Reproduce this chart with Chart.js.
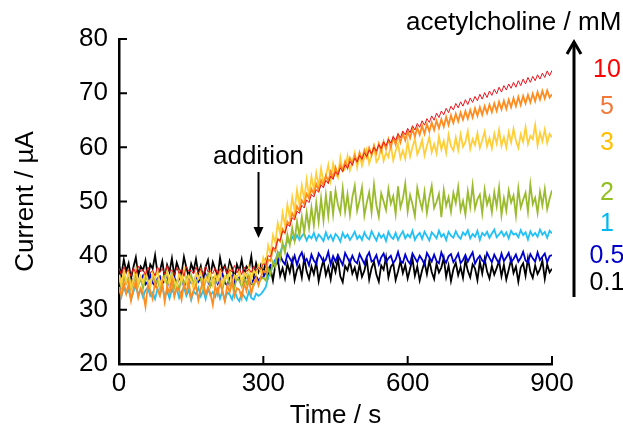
<!DOCTYPE html>
<html>
<head>
<meta charset="utf-8">
<script src="https://cdn.jsdelivr.net/npm/chart.js@4.4.0/dist/chart.umd.min.js"></script>
<style>
    html, body { margin: 0; padding: 0; background: #ffffff; }
    #wrap { width: 623px; height: 427px; }
</style>
</head>
<body>
<div id="wrap"><canvas id="currentChart" width="623" height="427"></canvas></div>
<script>
// Time axis (s) - one reading every 5 s
const TIME = [
    0, 5, 10, 15, 20, 25, 30, 35, 40, 45, 50, 55, 60, 65, 70, 75, 80, 85, 90, 95,
    100, 105, 110, 115, 120, 125, 130, 135, 140, 145, 150, 155, 160, 165, 170, 175, 180, 185, 190, 195,
    200, 205, 210, 215, 220, 225, 230, 235, 240, 245, 250, 255, 260, 265, 270, 275, 280, 285, 290, 295,
    300, 305, 310, 315, 320, 325, 330, 335, 340, 345, 350, 355, 360, 365, 370, 375, 380, 385, 390, 395,
    400, 405, 410, 415, 420, 425, 430, 435, 440, 445, 450, 455, 460, 465, 470, 475, 480, 485, 490, 495,
    500, 505, 510, 515, 520, 525, 530, 535, 540, 545, 550, 555, 560, 565, 570, 575, 580, 585, 590, 595,
    600, 605, 610, 615, 620, 625, 630, 635, 640, 645, 650, 655, 660, 665, 670, 675, 680, 685, 690, 695,
    700, 705, 710, 715, 720, 725, 730, 735, 740, 745, 750, 755, 760, 765, 770, 775, 780, 785, 790, 795,
    800, 805, 810, 815, 820, 825, 830, 835, 840, 845, 850, 855, 860, 865, 870, 875, 880, 885, 890, 895,
    900];

const X_TICKS = [0, 300, 600, 900];
const Y_TICKS = [20, 30, 40, 50, 60, 70, 80];

// Current (uA) for each acetylcholine concentration
const I_10MM = [
    37.7, 36.5, 38.0, 36.9, 37.4, 36.2, 37.8, 36.7, 38.1, 37.0, 37.5, 36.4, 37.9, 36.8, 37.3, 36.3, 38.0, 36.9, 37.6, 36.6,
    38.2, 37.0, 37.4, 36.5, 37.8, 36.7, 37.6, 36.2, 38.0, 37.1, 37.3, 36.6, 37.9, 36.8, 37.5, 36.4, 38.1, 37.0, 37.2, 36.7,
    37.8, 36.5, 37.6, 36.9, 38.0, 36.6, 37.4, 37.0, 38.2, 36.8, 37.7, 36.5, 37.9, 37.1, 37.5, 36.9, 38.1, 37.3, 37.8, 37.5,
    38.5, 38.3, 40.0, 39.8, 41.5, 41.3, 43.0, 42.8, 44.5, 44.2, 45.8, 45.4, 47.0, 46.6, 48.2, 47.8, 49.3, 48.8, 50.3, 49.8,
    51.3, 50.8, 52.2, 51.7, 53.1, 52.5, 53.9, 53.3, 54.7, 54.1, 55.5, 54.9, 56.2, 55.5, 56.8, 56.1, 57.4, 56.7, 58.0, 57.3,
    58.5, 57.8, 59.0, 58.3, 59.5, 58.8, 60.0, 59.3, 60.5, 59.8, 61.0, 60.3, 61.5, 60.8, 62.0, 61.3, 62.5, 61.8, 63.0, 62.3,
    63.5, 62.7, 64.0, 63.2, 64.4, 63.7, 64.9, 64.1, 65.3, 64.6, 65.8, 65.0, 66.3, 65.5, 66.7, 66.0, 67.2, 66.4, 67.6, 66.9,
    68.1, 67.3, 68.4, 67.6, 68.8, 67.9, 69.1, 68.3, 69.4, 68.6, 69.8, 68.9, 70.1, 69.2, 70.4, 69.6, 70.7, 69.9, 71.1, 70.2,
    71.4, 70.6, 71.7, 70.9, 72.0, 71.1, 72.3, 71.4, 72.6, 71.7, 72.9, 72.0, 73.1, 72.3, 73.4, 72.6, 73.7, 72.9, 74.1, 73.2,
    74.2];

const I_5MM = [
    34.2, 32.5, 35.1, 33.0, 34.8, 31.7, 33.9, 35.4, 32.3, 34.0, 33.2, 30.6, 34.6, 33.5, 32.0, 35.2, 33.7, 32.6, 34.9, 31.5,
    34.3, 33.1, 35.5, 32.4, 34.1, 33.8, 31.9, 34.7, 33.3, 35.0, 32.2, 33.6, 34.5, 31.8, 33.9, 35.3, 32.7, 34.2, 33.0, 30.9,
    34.4, 32.8, 35.1, 33.4, 31.6, 34.6, 33.2, 35.4, 32.5, 34.0, 33.7, 32.1, 34.9, 33.5, 35.6, 33.0, 34.8, 35.9, 34.5, 36.1,
    37.2, 36.9, 39.3, 39.0, 41.4, 40.8, 43.1, 42.6, 44.9, 44.2, 46.3, 45.7, 47.8, 47.0, 49.1, 48.3, 50.2, 49.5, 51.4, 50.6,
    52.3, 51.4, 53.2, 52.1, 53.9, 53.0, 54.8, 53.7, 55.5, 54.4, 56.3, 55.0, 56.7, 55.8, 57.4, 56.2, 58.0, 56.9, 58.5, 57.3,
    59.0, 57.8, 59.5, 58.2, 59.9, 58.6, 60.3, 58.9, 60.7, 59.3, 61.1, 59.7, 61.5, 60.0, 61.8, 60.5, 62.3, 60.9, 62.6, 61.3,
    63.0, 61.7, 63.4, 62.0, 63.6, 62.3, 64.0, 62.5, 64.3, 62.9, 64.6, 63.2, 64.9, 63.5, 65.2, 63.8, 65.6, 64.1, 65.9, 64.5,
    66.2, 64.8, 66.4, 65.1, 66.7, 65.3, 66.9, 65.5, 67.2, 65.8, 67.4, 66.0, 67.6, 66.3, 67.9, 66.5, 68.1, 66.7, 68.4, 67.0,
    68.6, 67.1, 68.8, 67.4, 69.1, 67.6, 69.3, 67.8, 69.5, 68.1, 69.7, 68.3, 69.9, 68.5, 70.2, 68.8, 70.4, 69.0, 70.5, 69.2,
    69.8];

const I_3MM = [
    36.5, 34.6, 37.3, 35.2, 36.9, 34.1, 35.7, 37.6, 34.8, 36.2, 35.0, 37.1, 35.5, 34.3, 36.8, 35.9, 37.4, 34.5, 36.0, 35.3,
    37.2, 34.7, 36.4, 35.6, 34.0, 36.9, 35.1, 37.5, 34.9, 36.3, 35.4, 33.9, 36.7, 35.8, 37.3, 34.4, 36.1, 35.2, 37.0, 34.6,
    36.6, 35.3, 37.4, 34.8, 36.2, 35.7, 37.7, 34.5, 36.4, 35.9, 37.1, 35.0, 36.8, 36.1, 37.9, 35.6, 37.3, 36.5, 38.2, 37.0,
    39.6, 38.4, 41.9, 40.3, 43.8, 42.4, 46.0, 44.1, 47.9, 45.6, 49.4, 47.0, 50.8, 48.3, 52.1, 49.5, 53.0, 50.4, 54.1, 51.0,
    54.6, 52.2, 55.3, 52.9, 56.1, 53.4, 54.7, 56.8, 53.9, 57.0, 55.2, 54.4, 58.1, 55.6, 56.0, 58.4, 55.8, 57.2, 59.0, 56.3,
    58.9, 56.6, 58.1, 59.6, 57.0, 58.5, 60.2, 57.3, 58.0, 60.1, 57.5, 59.0, 58.2, 60.4, 57.6, 59.3, 60.6, 58.0, 59.4, 57.9,
    61.1, 58.3, 60.0, 61.6, 58.7, 59.8, 61.4, 58.5, 60.3, 61.9, 59.1, 60.6, 58.9, 62.0, 59.6, 61.2, 59.0, 62.3, 60.2, 59.4,
    61.8, 59.5, 62.4, 60.1, 61.0, 63.0, 59.7, 61.5, 60.4, 62.6, 59.9, 61.3, 62.9, 60.2, 61.7, 59.8, 62.5, 60.7, 63.2, 60.3,
    61.9, 60.0, 62.8, 60.9, 63.4, 61.2, 59.9, 62.4, 61.0, 63.7, 60.6, 62.1, 61.5, 64.1, 60.4, 62.7, 61.1, 63.3, 60.8, 62.5,
    61.8];

const I_2MM = [
    35.8, 34.2, 36.4, 34.9, 35.6, 33.8, 35.1, 36.6, 34.5, 35.9, 34.0, 36.2, 35.3, 34.4, 36.5, 34.8, 35.5, 33.9, 35.7, 36.3,
    34.6, 35.4, 36.8, 34.1, 35.2, 33.7, 36.0, 34.7, 35.9, 34.3, 36.4, 35.0, 34.5, 36.1, 35.6, 33.9, 35.3, 36.7, 34.4, 35.8,
    34.9, 36.2, 35.1, 33.8, 35.7, 36.5, 34.6, 35.3, 34.0, 36.1, 35.4, 34.3, 35.9, 34.8, 36.3, 35.0, 34.5, 35.6, 34.9, 35.7,
    35.9, 35.4, 37.6, 36.5, 38.9, 37.9, 40.6, 39.3, 42.4, 40.6, 43.9, 42.0, 45.1, 42.8, 46.3, 43.6, 47.2, 44.3, 48.0, 45.1,
    48.9, 45.6, 49.8, 46.2, 50.6, 46.5, 51.2, 47.3, 51.9, 47.6, 52.0, 49.4, 47.9, 52.4, 48.1, 51.3, 47.5, 50.8, 52.9, 48.3,
    50.2, 52.6, 47.4, 49.8, 51.7, 48.0, 53.1, 49.3, 47.2, 51.5, 50.0, 48.4, 52.3, 49.6, 51.0, 47.7, 52.8, 48.9, 50.5, 53.3,
    48.2, 51.2, 49.5, 47.3, 52.5, 50.3, 48.6, 51.8, 47.9, 50.7, 52.9, 48.8, 49.9, 51.4, 47.1, 52.1, 49.2, 50.8, 48.1, 51.6,
    49.7, 52.7, 48.4, 50.1, 47.6, 51.9, 49.0, 53.0, 48.7, 50.4, 51.3, 47.8, 52.2, 49.4, 50.9, 48.0, 51.7, 49.1, 52.6, 47.5,
    50.6, 48.3, 52.0, 49.8, 51.1, 47.4, 52.4, 48.9, 50.3, 51.6, 48.1, 53.2, 49.5, 50.7, 47.9, 51.8, 49.3, 52.3, 48.6, 50.5,
    52.1];

const I_1MM = [
    33.9, 32.5, 34.2, 33.0, 33.7, 31.9, 33.4, 34.4, 32.7, 33.8, 32.3, 33.6, 34.1, 32.6, 33.2, 32.0, 33.9, 32.8, 34.3, 32.4,
    33.5, 32.1, 33.8, 32.9, 34.0, 32.2, 33.3, 34.2, 32.6, 33.7, 31.8, 33.4, 32.9, 34.1, 32.5, 33.6, 32.0, 33.9, 32.7, 33.3,
    32.4, 33.8, 32.1, 33.5, 31.7, 33.2, 32.8, 31.9, 33.6, 32.3, 31.6, 33.1, 32.5, 31.8, 33.4, 32.2, 31.9, 33.0, 32.6, 32.9,
    33.5, 34.2, 36.1, 36.8, 38.5, 39.0, 40.6, 40.5, 41.9, 41.6, 42.8, 42.3, 43.5, 42.8, 43.8, 42.9, 43.6, 44.1, 42.8, 43.7,
    43.2, 44.2, 42.9, 43.9, 43.4, 42.7, 44.3, 43.1, 43.8, 42.8, 44.0, 43.5, 42.6, 44.2, 43.3, 43.9, 42.9, 43.6, 44.4, 43.1,
    43.7, 42.9, 44.3, 43.4, 43.0, 44.5, 43.6, 42.8, 44.1, 43.3, 43.9, 42.7, 44.4, 43.5, 43.1, 44.2, 42.9, 43.8, 44.5, 43.2,
    43.9, 43.4, 44.6, 42.9, 43.7, 44.2, 43.1, 44.4, 43.6, 42.8, 44.3, 43.8, 43.2, 44.6, 43.5, 44.0, 42.9, 44.4, 43.7, 43.3,
    44.5, 43.6, 43.1, 44.3, 43.8, 44.7, 43.2, 44.0, 43.5, 44.6, 42.9, 44.2, 43.7, 44.4, 43.3, 44.1, 44.8, 43.4, 43.9, 44.5,
    43.6, 44.3, 43.2, 44.6, 43.9, 44.1, 43.4, 44.7, 43.8, 44.3, 43.0, 44.5, 43.7, 44.2, 43.5, 44.8, 43.9, 44.4, 43.3, 44.6,
    44.1];

const I_05MM = [
    35.9, 34.6, 36.4, 35.0, 36.1, 34.3, 35.7, 36.6, 34.9, 35.5, 36.3, 34.7, 35.2, 36.5, 35.0, 34.4, 35.8, 36.2, 34.8, 35.6,
    36.4, 34.5, 35.3, 36.0, 34.9, 35.7, 36.6, 34.2, 35.4, 36.1, 35.0, 34.6, 36.3, 35.2, 35.9, 34.7, 36.5, 35.1, 34.4, 35.8,
    36.2, 34.8, 35.5, 36.7, 35.0, 34.5, 35.9, 36.3, 34.9, 35.6, 36.0, 34.6, 35.3, 36.4, 35.1, 34.8, 35.7, 36.2, 35.4, 36.0,
    36.0, 36.9, 37.4, 38.3, 38.1, 39.2, 38.6, 40.1, 39.0, 38.4, 40.3, 39.5, 38.7, 40.0, 38.3, 39.8, 40.6, 38.9, 39.4, 38.2,
    40.2, 39.1, 38.5, 40.4, 39.7, 38.8, 39.3, 40.7, 38.4, 39.9, 38.9, 40.1, 39.2, 38.3, 40.5, 39.6, 38.7, 40.0, 39.0, 38.6,
    40.3, 39.4, 38.5, 39.8, 40.6, 38.9, 39.2, 40.1, 38.4, 39.7, 40.4, 38.8, 39.5, 40.0, 38.6, 39.3, 40.7, 39.0, 38.7, 40.2,
    39.1, 38.5, 40.4, 39.6, 38.8, 40.0, 39.3, 38.4, 40.5, 39.7, 38.9, 40.2, 39.0, 38.6, 40.6, 39.4, 38.7, 39.9, 40.3, 38.8,
    39.5, 40.4, 38.6, 39.2, 40.1, 38.9, 39.8, 40.6, 38.5, 39.4, 40.0, 39.1, 38.7, 40.5, 39.6, 38.8, 40.2, 39.3, 38.6, 40.4,
    39.0, 39.7, 40.5, 38.8, 39.4, 40.2, 38.9, 39.6, 40.7, 39.1, 38.7, 40.3, 39.5, 38.9, 40.6, 39.2, 39.8, 40.4, 38.8, 39.9,
    40.1];

const I_01MM = [
    38.2, 36.5, 39.3, 37.1, 38.6, 35.8, 37.9, 39.7, 36.4, 38.0, 37.3, 39.1, 36.0, 38.4, 37.6, 40.1, 36.8, 37.2, 39.0, 35.9,
    38.3, 37.0, 39.5, 36.2, 38.7, 37.4, 36.6, 39.8, 37.8, 36.1, 38.5, 37.2, 39.4, 36.7, 38.1, 35.7, 37.9, 39.2, 36.3, 38.8,
    37.5, 36.0, 39.6, 37.3, 38.2, 36.5, 39.0, 37.7, 35.9, 38.4, 37.1, 39.3, 36.6, 38.0, 37.4, 39.9, 36.2, 38.6, 37.0, 38.3,
    36.8, 38.9, 36.1, 37.6, 35.4, 38.3, 39.4, 36.3, 37.7, 35.8, 38.5, 36.9, 39.1, 35.5, 37.4, 38.2, 36.0, 39.6, 37.1, 35.7,
    38.0, 36.6, 38.8, 35.3, 37.5, 39.2, 36.4, 37.9, 35.6, 38.6, 37.0, 39.5, 36.2, 35.1, 38.1, 37.3, 39.0, 36.7, 37.8, 35.9,
    38.4, 36.1, 37.2, 39.3, 35.6, 37.7, 38.9, 36.5, 35.2, 38.2, 37.4, 39.7, 36.0, 37.9, 38.6, 35.5, 37.1, 39.0, 36.8, 38.3,
    35.8, 37.6, 39.4, 36.3, 38.0, 35.4, 37.3, 38.8, 36.6, 39.1, 37.0, 35.7, 38.5, 36.9, 37.8, 39.6, 36.1, 38.2, 35.3, 37.5,
    38.7, 36.4, 37.9, 35.9, 39.2, 37.2, 36.0, 38.4, 37.6, 35.5, 38.9, 36.7, 39.4, 37.1, 35.8, 38.1, 36.5, 37.7, 39.0, 36.2,
    38.3, 35.6, 37.4, 39.3, 36.8, 38.0, 35.2, 37.8, 38.6, 36.3, 39.5, 37.0, 35.9, 38.2, 36.6, 37.5, 39.1, 35.7, 38.4, 36.9,
    37.6];

// first entry is drawn on top
const SERIES = [
    { label: '10', values: I_10MM, line: '#e5141c', text: '#ff0000', width: 1, baseline: 77 },
    { label: '5', values: I_5MM, line: '#ff8c1e', text: '#f07838', width: 1.8, baseline: 114 },
    { label: '3', values: I_3MM, line: '#ffcf3a', text: '#ffc000', width: 1.8, baseline: 150 },
    { label: '2', values: I_2MM, line: '#9bbb2e', text: '#92c020', width: 1.8, baseline: 200 },
    { label: '1', values: I_1MM, line: '#22c0f5', text: '#00b8f0', width: 1.8, baseline: 231 },
    { label: '0.5', values: I_05MM, line: '#0000cc', text: '#0000cc', width: 1.8, baseline: 263 },
    { label: '0.1', values: I_01MM, line: '#000000', text: '#000000', width: 1.8, baseline: 290 }
];

const FONT = '"Liberation Sans", Arial, sans-serif';

const annotations = {
    id: 'annotations',
    afterDraw(chart) {
        const ctx = chart.ctx;
        const xs = chart.scales.x;
        const ys = chart.scales.y;
        const area = chart.chartArea;
        ctx.save();
        ctx.strokeStyle = '#000';
        ctx.fillStyle = '#000';

        // inward tick marks
        ctx.lineWidth = 2;
        ctx.beginPath();
        X_TICKS.forEach(v => {
            const px = xs.getPixelForValue(v);
            ctx.moveTo(px, area.bottom);
            ctx.lineTo(px, area.bottom - 8);
        });
        Y_TICKS.forEach(v => {
            const py = ys.getPixelForValue(v);
            ctx.moveTo(area.left, py);
            ctx.lineTo(area.left + 8, py);
        });
        ctx.stroke();

        // axis titles
        ctx.font = '26px ' + FONT;
        ctx.textAlign = 'center';
        ctx.textBaseline = 'alphabetic';
        ctx.fillText('Time / s', (area.left + area.right) / 2, 423);
        ctx.save();
        ctx.translate(33, (area.top + area.bottom) / 2);
        ctx.rotate(-Math.PI / 2);
        ctx.fillText('Current / µA', 0, 0);
        ctx.restore();

        // "addition" marker
        const ax = xs.getPixelForValue(290);
        ctx.fillText('addition', ax, 164);
        ctx.lineWidth = 2;
        ctx.beginPath();
        ctx.moveTo(ax, 172);
        ctx.lineTo(ax, 229);
        ctx.stroke();
        ctx.beginPath();
        ctx.moveTo(ax - 5, 227);
        ctx.lineTo(ax + 5, 227);
        ctx.lineTo(ax, 238);
        ctx.closePath();
        ctx.fill();

        // concentration scale at the right
        ctx.textAlign = 'left';
        ctx.fillText('acetylcholine / mM', 406, 30);
        ctx.lineWidth = 3;
        ctx.beginPath();
        ctx.moveTo(574, 297);
        ctx.lineTo(574, 42);
        ctx.stroke();
        ctx.beginPath();
        ctx.moveTo(567, 54);
        ctx.lineTo(574, 42);
        ctx.lineTo(581, 54);
        ctx.stroke();

        ctx.font = '25px ' + FONT;
        ctx.textAlign = 'center';
        SERIES.forEach(s => {
            ctx.fillStyle = s.text;
            ctx.fillText(s.label, 607, s.baseline);
        });
        ctx.restore();
    }
};

const ctx = document.getElementById('currentChart').getContext('2d');
new Chart(ctx, {
    type: 'line',
    data: {
        datasets: SERIES.map(s => ({
            label: s.label,
            data: TIME.map((t, i) => ({ x: t, y: s.values[i] })),
            borderColor: s.line,
            borderWidth: s.width,
            pointRadius: 0,
            fill: false,
            tension: 0
        }))
    },
    options: {
        responsive: false,
        animation: false,
        layout: {
            padding: { left: 0, top: 39, right: 71, bottom: 0 }
        },
        plugins: {
            legend: { display: false },
            tooltip: { enabled: false }
        },
        scales: {
            x: {
                type: 'linear',
                min: 0,
                max: 900,
                afterFit: scale => { scale.height = 63; },
                afterBuildTicks: scale => { scale.ticks = X_TICKS.map(v => ({ value: v })); },
                grid: { display: false, drawTicks: false, tickLength: 0 },
                border: { display: true, color: '#000', width: 2.5 },
                ticks: {
                    color: '#000',
                    padding: 4,
                    maxRotation: 0,
                    font: { family: FONT, size: 26 }
                }
            },
            y: {
                min: 20,
                max: 80,
                afterFit: scale => { scale.width = 119; },
                afterBuildTicks: scale => { scale.ticks = Y_TICKS.map(v => ({ value: v })); },
                grid: { display: false, drawTicks: false, tickLength: 0 },
                border: { display: true, color: '#000', width: 2.5 },
                ticks: {
                    color: '#000',
                    padding: 11,
                    font: { family: FONT, size: 26 }
                }
            }
        }
    },
    plugins: [annotations]
});
</script>
</body>
</html>
